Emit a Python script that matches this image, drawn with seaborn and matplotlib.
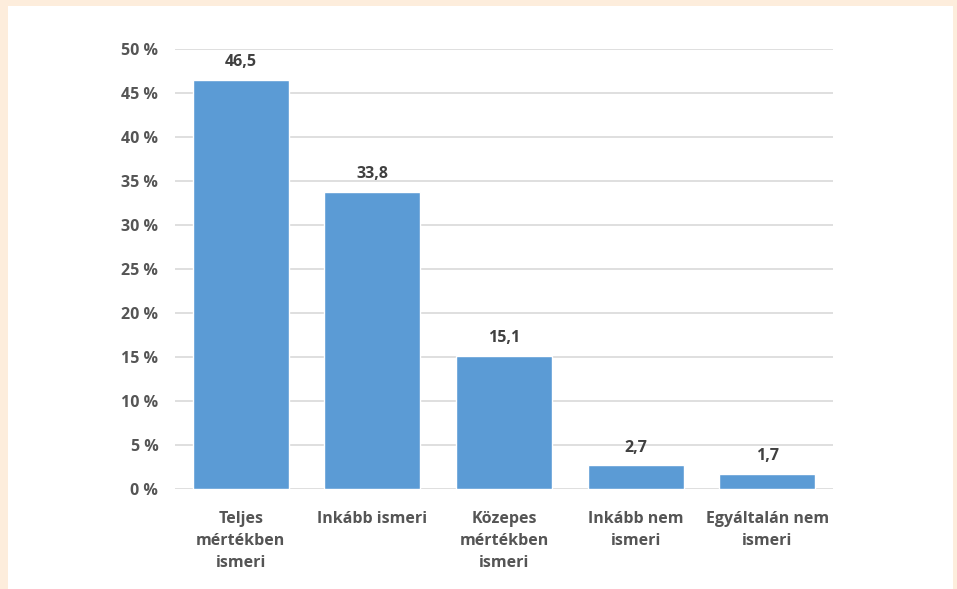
import matplotlib
matplotlib.use("Agg")
import matplotlib.pyplot as plt
from matplotlib.patches import Rectangle
import seaborn as sns
import pandas as pd

categories = [
    "Teljes\nmértékben\nismeri",
    "Inkább ismeri",
    "Közepes\nmértékben\nismeri",
    "Inkább nem\nismeri",
    "Egyáltalán nem\nismeri",
]
values = [46.5, 33.8, 15.1, 2.7, 1.7]
y_ticks = [0, 5, 10, 15, 20, 25, 30, 35, 40, 45, 50]
y_tick_labels = [f"{t} %" for t in y_ticks]

sns.set_theme(style="white")
plt.rcParams["font.family"] = ["Open Sans", "DejaVu Sans"]

W, H = 957, 589
fig = plt.figure(figsize=(W / 100, H / 100), dpi=100)
fig.patch.set_facecolor("#FDEDDC")
# white card behind the chart
fig.patches.append(Rectangle((8 / W, 0), (953 - 8) / W, (H - 6) / H,
                             transform=fig.transFigure, facecolor="white",
                             edgecolor="none", zorder=-10))

ax = fig.add_axes([175 / W, 1 - 489 / H, (833 - 175) / W, (489 - 49) / H])
ax.set_zorder(5)
ax.set_facecolor("none")

df = pd.DataFrame({"cat": categories, "val": values})
sns.barplot(data=df, x="cat", y="val", color="#5B9BD5", saturation=1,
            width=0.73, ax=ax, zorder=3)

ax.set_xlim(-0.5, len(categories) - 0.5)
ax.set_ylim(0, 50)
ax.set_yticks(y_ticks)
ax.set_yticklabels(y_tick_labels)
ax.set_xlabel("")
ax.set_ylabel("")

text_color = "#555555"
for lbl in ax.get_yticklabels():
    lbl.set_fontsize(11.5)
    lbl.set_fontweight("bold")
    lbl.set_color(text_color)
for lbl in ax.get_xticklabels():
    lbl.set_fontsize(11.5)
    lbl.set_fontweight("bold")
    lbl.set_color(text_color)
    lbl.set_linespacing(1.5)
ax.tick_params(axis="y", length=0, pad=12)
ax.tick_params(axis="x", length=0, pad=16)

ax.grid(axis="y", color="#D9D9D9", linewidth=1.2, zorder=0)
ax.grid(axis="x", visible=False)
ax.set_axisbelow(True)
for side in ["top", "right", "left", "bottom"]:
    ax.spines[side].set_visible(False)

for container in ax.containers:
    ax.bar_label(container, labels=[f"{v:.1f}".replace(".", ",") for v in values],
                 padding=7, fontsize=11.5, fontweight="bold", color="#404040")

fig.savefig("out.png", dpi=100, facecolor=fig.get_facecolor())
